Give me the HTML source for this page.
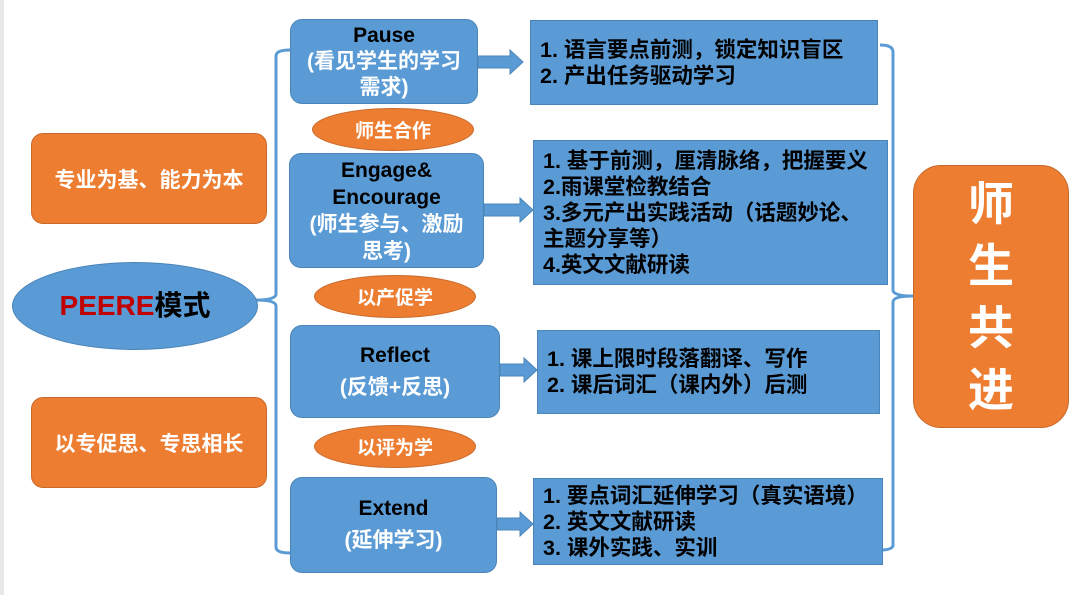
<!DOCTYPE html>
<html><head><meta charset="utf-8"><style>
body{margin:0;width:1080px;height:595px;background:#fff;position:relative;overflow:hidden;font-family:"Liberation Sans","Noto Sans CJK SC",sans-serif;font-weight:bold}
.a{position:absolute;box-sizing:border-box}
.or{background:#ed7d31;border:1px solid #c8692a;color:#fff;display:flex;align-items:center;justify-content:center;text-align:center}
.bl{background:#5b9bd5;border:1px solid #4a84b8;color:#000;display:flex;flex-direction:column;align-items:center;justify-content:center;text-align:center;border-radius:12px;font-size:21px;line-height:26px;white-space:nowrap}
.bl .c{color:#fff}
.dt{background:#5b9bd5;border:1px solid #4a84b8;color:#000;font-size:21.5px;line-height:26px;padding-left:9px;display:flex;flex-direction:column;justify-content:center;white-space:nowrap}
.el{border-radius:50%;font-size:19px}
</style></head><body>
<div class="a" style="left:0;top:0;width:4px;height:595px;background:#e8e8e8"></div>
<svg class="a" style="left:0;top:0" width="1080" height="595">
<g fill="none" stroke="#5b9bd5" stroke-width="3">
<path d="M290 50 Q276 50 276 56 L276 294 Q276 300 256 300 Q276 300 276 306 L276 547 Q276 553 290 553"/>
<path d="M880 45 Q893 45 893 52 L893 290 Q893 296 913 296 Q893 296 893 302 L893 545 Q893 550 880 550"/>
</g>
<g fill="#5b9bd5" stroke="#4a84b8" stroke-width="1">
<polygon points="478,56 510,56 510,50 523,62 510,74 510,68 478,68"/>
<polygon points="484,204 520,204 520,198 533,210 520,222 520,216 484,216"/>
<polygon points="500,364 524,364 524,358 537,370 524,382 524,376 500,376"/>
<polygon points="497,518 520,518 520,512 533,524 520,536 520,530 497,530"/>
</g>
</svg>
<div class="a or" style="left:31px;top:133px;width:236px;height:91px;border-radius:12px;font-size:21px">专业为基、能力为本</div>
<div class="a or" style="left:31px;top:397px;width:236px;height:91px;border-radius:12px;font-size:21px">以专促思、专思相长</div>
<div class="a bl" style="left:12px;top:262px;width:246px;height:88px;border-radius:50%;font-size:28px"><span><span style="color:#c00000">PEERE</span>模式</span></div>
<div class="a bl" style="left:290px;top:19px;width:188px;height:85px"><span>Pause</span><span class="c">(看见学生的学习</span><span class="c">需求)</span></div>
<div class="a bl" style="left:289px;top:153px;width:195px;height:115px;line-height:27px"><span>Engage&amp;</span><span>Encourage</span><span class="c">(师生参与、激励</span><span class="c">思考)</span></div>
<div class="a bl" style="left:290px;top:325px;width:210px;height:93px;line-height:32px"><span>Reflect</span><span class="c">(反馈+反思)</span></div>
<div class="a bl" style="left:290px;top:477px;width:207px;height:96px;line-height:32px"><span>Extend</span><span class="c">(延伸学习)</span></div>
<div class="a or el" style="left:312px;top:108px;width:162px;height:43px">师生合作</div>
<div class="a or el" style="left:314px;top:275px;width:162px;height:43px">以产促学</div>
<div class="a or el" style="left:314px;top:425px;width:162px;height:43px">以评为学</div>
<div class="a dt" style="left:530px;top:20px;width:348px;height:85px"><span>1. 语言要点前测，锁定知识盲区</span><span>2. 产出任务驱动学习</span></div>
<div class="a dt" style="left:533px;top:140px;width:355px;height:145px"><span>1. 基于前测，厘清脉络，把握要义</span><span>2.雨课堂检教结合</span><span>3.多元产出实践活动（话题妙论、</span><span>主题分享等）</span><span>4.英文文献研读</span></div>
<div class="a dt" style="left:537px;top:330px;width:343px;height:84px"><span>1. 课上限时段落翻译、写作</span><span>2. 课后词汇（课内外）后测</span></div>
<div class="a dt" style="left:533px;top:478px;width:350px;height:87px"><span>1. 要点词汇延伸学习（真实语境）</span><span>2. 英文文献研读</span><span>3. 课外实践、实训</span></div>
<div class="a or" style="left:913px;top:165px;width:156px;height:263px;border-radius:28px;font-size:46px;line-height:62px;flex-direction:column"><span>师</span><span>生</span><span>共</span><span>进</span></div>
</body></html>
